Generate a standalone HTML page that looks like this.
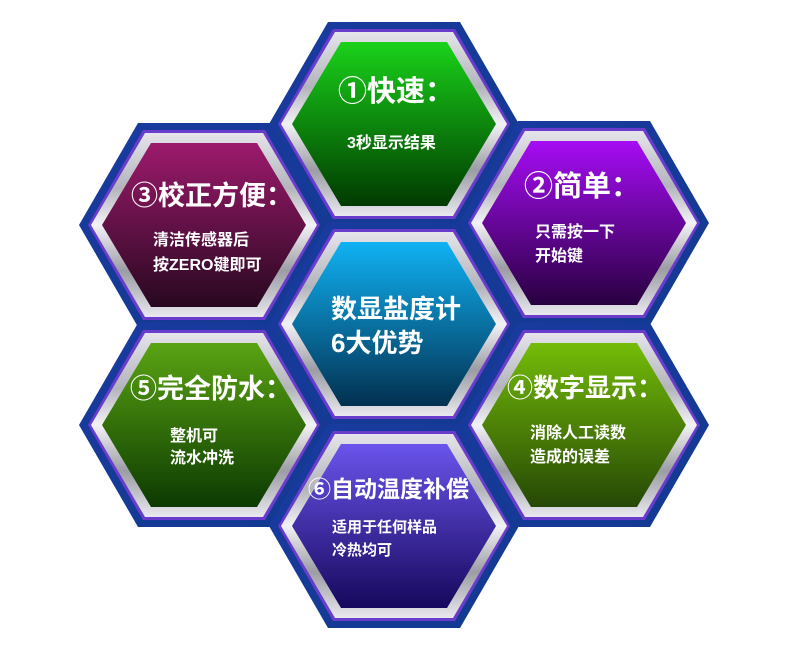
<!DOCTYPE html>
<html><head><meta charset="utf-8"><style>
html,body{margin:0;padding:0;background:#fff;}
svg{display:block;}
text{font-family:"Liberation Sans","Noto Sans CJK SC",sans-serif;font-weight:bold;fill:#fff;}
</style></head><body>
<svg width="800" height="647" viewBox="0 0 800 647" xmlns="http://www.w3.org/2000/svg">
<defs>
<linearGradient id="blue" x1="0" y1="0" x2="1" y2="1"><stop offset="0" stop-color="#1a3aa0"/><stop offset="1" stop-color="#123a90"/></linearGradient>
<linearGradient id="silver" x1="0" y1="0" x2="0" y2="1"><stop offset="0" stop-color="#e4e4ea"/><stop offset="0.3" stop-color="#b4b4bc"/><stop offset="0.5" stop-color="#f2f2f6"/><stop offset="0.75" stop-color="#9c9ca4"/><stop offset="1" stop-color="#e8e8ee"/></linearGradient>
<linearGradient id="g1" x1="0" y1="0" x2="0" y2="1"><stop offset="0" stop-color="#1ad21a"/><stop offset="1" stop-color="#003a00"/></linearGradient>
<linearGradient id="g2" x1="0" y1="0" x2="0" y2="1"><stop offset="0" stop-color="#a60cf4"/><stop offset="1" stop-color="#280040"/></linearGradient>
<linearGradient id="g3" x1="0" y1="0" x2="0" y2="1"><stop offset="0" stop-color="#9c1a6c"/><stop offset="1" stop-color="#280820"/></linearGradient>
<linearGradient id="gc" x1="0" y1="0" x2="0" y2="1"><stop offset="0" stop-color="#10b2f4"/><stop offset="1" stop-color="#023050"/></linearGradient>
<linearGradient id="g5" x1="0" y1="0" x2="0" y2="1"><stop offset="0" stop-color="#5aa412"/><stop offset="1" stop-color="#0c3a02"/></linearGradient>
<linearGradient id="g4" x1="0" y1="0" x2="0" y2="1"><stop offset="0" stop-color="#74bc08"/><stop offset="1" stop-color="#264806"/></linearGradient>
<linearGradient id="g6" x1="0" y1="0" x2="0" y2="1"><stop offset="0" stop-color="#6a54ec"/><stop offset="1" stop-color="#16085c"/></linearGradient>
</defs>
<g id="hexes"></g>
<g id="txt">
<text x="338" y="101" font-size="29">①快速：</text>
<text x="347" y="148" font-size="16">3秒显示结果</text>
<text x="524" y="196" font-size="29">②简单：</text>
<text x="535" y="237" font-size="16">只需按一下</text>
<text x="535" y="261" font-size="16">开始键</text>
<text x="131" y="205" font-size="27">③校正方便：</text>
<text x="153" y="245" font-size="16">清洁传感器后</text>
<text x="153" y="270" font-size="16">按ZERO键即可</text>
<text x="331" y="318" font-size="26">数显盐度计</text>
<text x="331" y="352" font-size="26">6大优势</text>
<text x="130" y="398" font-size="27">⑤完全防水：</text>
<text x="170" y="441" font-size="16">整机可</text>
<text x="170" y="463" font-size="16">流水冲洗</text>
<text x="507" y="397" font-size="26">④数字显示：</text>
<text x="530" y="438" font-size="16">消除人工读数</text>
<text x="530" y="462" font-size="16">造成的误差</text>
<text x="308" y="497" font-size="23">⑥自动温度补偿</text>
<text x="332" y="532" font-size="15">适用于任何样品</text>
<text x="332" y="555" font-size="15">冷热均可</text>
</g>
</svg>
<script>
var hx=[[394,124,'g1'],[584,223,'g2'],[204,225,'g3'],[394,324,'gc'],[204,425,'g5'],[584,425,'g4'],[394,526,'g6']];
function pts(cx,cy,R,h,a){return [[cx-R,cy],[cx-a,cy-h],[cx+a,cy-h],[cx+R,cy],[cx+a,cy+h],[cx-a,cy+h]].map(function(p){return p[0]+','+p[1]}).join(' ');}
var s='';
hx.forEach(function(c){s+='<polygon points="'+pts(c[0],c[1],125,102,66)+'" fill="url(#blue)"/>';});
hx.forEach(function(c){s+='<polygon points="'+pts(c[0],c[1],116,95,61)+'" fill="#6a3ccc"/>';});
hx.forEach(function(c){s+='<polygon points="'+pts(c[0],c[1],113,92,59)+'" fill="url(#silver)"/>';});
hx.forEach(function(c){s+='<polygon points="'+pts(c[0],c[1],102,82,53)+'" fill="url(#'+c[2]+')"/>';});
document.getElementById('hexes').innerHTML=s;
</script>
</body></html>
